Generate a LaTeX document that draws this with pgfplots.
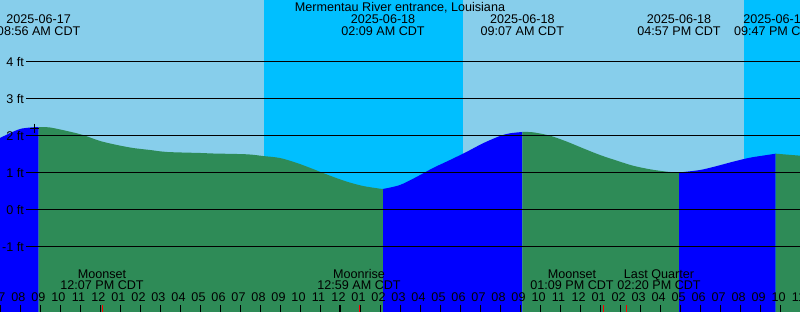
\documentclass[border=0pt]{standalone}
\usepackage{pgfplots}
\pgfplotsset{compat=1.18}
\usepackage{pgfplotstable}
\usepackage{fontspec}
\setmainfont{Liberation Sans}
\definecolor{day}{HTML}{87CEEB}
\definecolor{night}{HTML}{00BFFF}
\definecolor{fall}{HTML}{2E8B57}
\definecolor{rise}{HTML}{0000FF}
\newcommand\lbl{\fontsize{12.6}{14}\selectfont}
% t: hours after 09:00 CDT 2025-06-17, h: height in ft (plotted as h+3)
\pgfplotstableread{
t h
-2 1.946
-1 2.189
-0.067 2.243
0.5 2.23
1.35 2.135
2.15 2.027
3 1.865
3.85 1.757
4.65 1.676
5.5 1.622
6.35 1.568
8 1.541
8.65 1.527
10.35 1.505
11.15 1.459
12 1.405
12.85 1.27
13.65 1.108
14.5 0.927
15.35 0.765
16.15 0.649
17 0.576
17.15 0.568
18 0.676
18.85 0.9
19.65 1.135
20.5 1.351
21.35 1.576
22.15 1.803
23 2.0
23.5 2.073
24.117 2.108
24.65 2.1
25.5 2.008
26.35 1.846
27.15 1.668
28 1.486
28.85 1.332
29.65 1.197
30.5 1.1
31.35 1.035
31.95 1.014
33 1.081
33.85 1.189
34.65 1.305
35.5 1.414
36.35 1.486
36.783 1.522
38 1.468
}\tide
\tikzset{lb/.style={font=\lbl, inner sep=0pt, text=black}}
\begin{document}
\begin{tikzpicture}
\begin{axis}[
  scale only axis, width=800pt, height=312pt,
  xmin=-2, xmax=38, ymin=0.2432, ymax=8.6757,
  axis line style={draw=none},
  axis background/.style={fill=day},
  axis on top,
  ytick=\empty,
  xtick={-2,...,38},
  xticklabels={07,08,09,10,11,12,01,02,03,04,05,06,07,08,09,10,11,12,01,02,03,04,05,06,07,08,09,10,11,12,01,02,03,04,05,06,07,08,09,10,11},
  xtick pos=lower, tick align=inside, major tick length=7pt,
  tick style={black, line width=1pt},
  xticklabel style={anchor=base, yshift=10.3pt, xshift=-1.5pt, font=\lbl, text=black},
]
% night bands
\addplot[fill=night, draw=none] coordinates {(11.2,0) (11.2,9) (21.15,9) (21.15,0)};
\addplot[fill=night, draw=none] coordinates {(35.2,0) (35.2,9) (39,9) (39,0)};
% tide: rising blue, falling green
\addplot[fill=rise, draw=none, smooth, restrict x to domain=-2:-0.067] table[x=t, y expr=\thisrow{h}+3] {\tide} \closedcycle;
\addplot[fill=fall, draw=none, smooth, restrict x to domain=-0.067:17.15] table[x=t, y expr=\thisrow{h}+3] {\tide} \closedcycle;
\addplot[fill=rise, draw=none, smooth, restrict x to domain=17.15:24.117] table[x=t, y expr=\thisrow{h}+3] {\tide} \closedcycle;
\addplot[fill=fall, draw=none, smooth, restrict x to domain=24.117:31.95] table[x=t, y expr=\thisrow{h}+3] {\tide} \closedcycle;
\addplot[fill=rise, draw=none, smooth, restrict x to domain=31.95:36.783] table[x=t, y expr=\thisrow{h}+3] {\tide} \closedcycle;
\addplot[fill=fall, draw=none, smooth, restrict x to domain=36.783:38] table[x=t, y expr=\thisrow{h}+3] {\tide} \closedcycle;
% horizontal reference lines
\addplot[black, line width=1pt] coordinates {(-0.7,7) (38,7)};
\addplot[black, line width=1pt] coordinates {(-0.7,6) (38,6)};
\addplot[black, line width=1pt] coordinates {(-0.7,5) (38,5)};
\addplot[black, line width=1pt] coordinates {(-0.7,4) (38,4)};
\addplot[black, line width=1pt] coordinates {(-0.7,3) (38,3)};
\addplot[black, line width=1pt] coordinates {(-0.7,2) (38,2)};
% moon event ticks and midnight tick
\addplot[red, line width=1pt] coordinates {(3.117,0.2432) (3.117,0.4324)};
\addplot[red, line width=1pt] coordinates {(15.983,0.2432) (15.983,0.4324)};
\addplot[red, line width=1pt] coordinates {(28.15,0.2432) (28.15,0.4324)};
\addplot[red, line width=1pt] coordinates {(29.333,0.2432) (29.333,0.4324)};
\addplot[black, line width=2.3pt] coordinates {(15,0.2432) (15,0.4324)};
% current-time marker
\addplot[only marks, mark=+, mark size=4.5pt, black, line width=1pt] coordinates {(-0.3,5.216)};
% labels
\node[lb, anchor=east] at (axis cs:-0.8,7) {4 ft};
\node[lb, anchor=east] at (axis cs:-0.8,6) {3 ft};
\node[lb, anchor=east] at (axis cs:-0.8,5) {2 ft};
\node[lb, anchor=east] at (axis cs:-0.8,4) {1 ft};
\node[lb, anchor=east] at (axis cs:-0.8,3) {0 ft};
\node[lb, anchor=east] at (axis cs:-0.8,2) {-1 ft};
\node[lb, anchor=base] at (axis cs:18,8.365) {Mermentau River entrance, Louisiana};
\node[lb, anchor=base] at (axis cs:-0.067,8.027) {2025-06-17};
\node[lb, anchor=base] at (axis cs:-0.067,7.711) {08:56 AM CDT};
\node[lb, anchor=base] at (axis cs:17.15,8.027) {2025-06-18};
\node[lb, anchor=base] at (axis cs:17.15,7.711) {02:09 AM CDT};
\node[lb, anchor=base] at (axis cs:24.117,8.027) {2025-06-18};
\node[lb, anchor=base] at (axis cs:24.117,7.711) {09:07 AM CDT};
\node[lb, anchor=base] at (axis cs:31.95,8.027) {2025-06-18};
\node[lb, anchor=base] at (axis cs:31.95,7.711) {04:57 PM CDT};
\node[lb, anchor=base] at (axis cs:36.783,8.027) {2025-06-18};
\node[lb, anchor=base] at (axis cs:36.783,7.711) {09:47 PM CDT};
\node[lb, anchor=base] at (axis cs:3.1,1.154) {Moonset};
\node[lb, anchor=base] at (axis cs:3.1,0.857) {12:07 PM CDT};
\node[lb, anchor=base] at (axis cs:15.95,1.154) {Moonrise};
\node[lb, anchor=base] at (axis cs:15.95,0.857) {12:59 AM CDT};
\node[lb, anchor=base] at (axis cs:26.6,1.154) {Moonset};
\node[lb, anchor=base] at (axis cs:26.6,0.857) {01:09 PM CDT};
\node[lb, anchor=base] at (axis cs:30.95,1.154) {Last Quarter};
\node[lb, anchor=base] at (axis cs:30.95,0.857) {02:20 PM CDT};
\end{axis}
\pgfresetboundingbox
\path[use as bounding box] (0,0) rectangle (800pt,312pt);
\end{tikzpicture}
\end{document}
